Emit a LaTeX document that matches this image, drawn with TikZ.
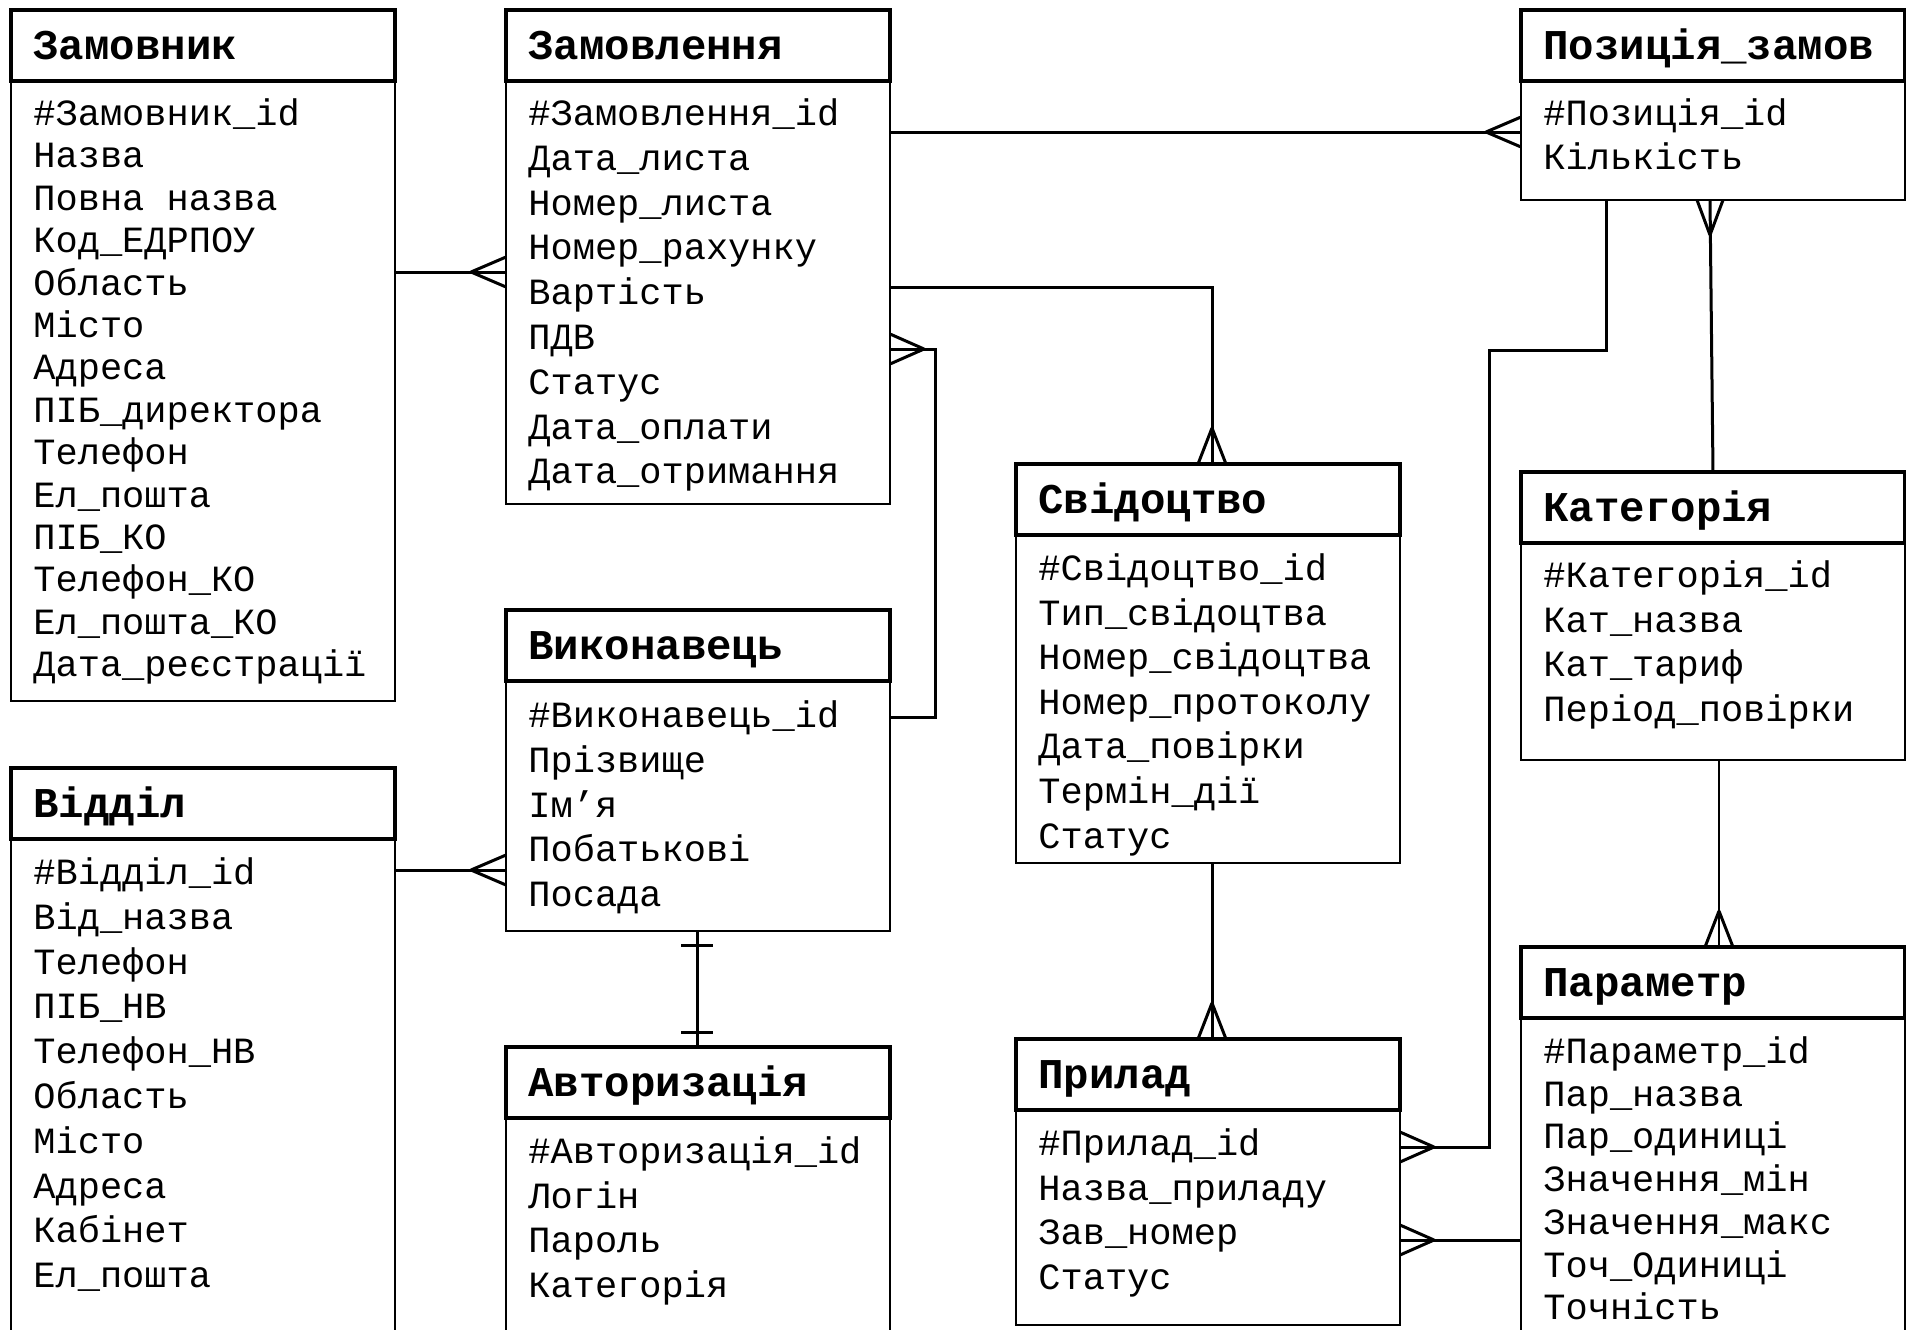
\documentclass[tikz,border=0pt]{standalone}
\usepackage{fontspec}
\setmonofont{Liberation Mono}
\usetikzlibrary{calc}

% one entity: header box with bold title, body box with one attribute per row
% #1 name, #2 left x, #3 top y, #4 body height, #5 title, #6 first baseline, #7 row step, #8 attributes
\newcommand\erentity[8]{%
  \node[bodybox, minimum height=#4*0.5pt] (#1b) at (#2,#3+71) {};
  \node[hdrbox] (#1) at (#2,#3) {};
  \node[hdrtext] (#1t) at (#2+22,#3+49.5) {#5};
  \foreach \t [count=\i from 0] in {#8}
    \node[rowtext] (#1r\i) at (#2+22,#6+2.5+\i*#7) {\t};
}

\begin{document}
\begin{tikzpicture}[x=0.5pt,y=-0.5pt,
  bodybox/.style={draw, line width=0.8pt, fill=white, anchor=north west,
    minimum width=192pt, inner sep=0pt, outer sep=0pt},
  hdrbox/.style={draw, line width=2.2pt, fill=white, anchor=north west,
    minimum width=192pt, minimum height=35.5pt, inner sep=0pt, outer sep=0pt},
  hdrtext/.style={anchor=base west, inner sep=0pt,
    font=\fontsize{21.2}{24}\selectfont\ttfamily\bfseries},
  rowtext/.style={anchor=base west, inner sep=0pt,
    font=\fontsize{18.5}{22}\selectfont\ttfamily},
  conn/.style={line width=1.5pt, black},
  crowL/.pic={\draw[conn] (-35,0) -- (0,-15) (-35,0) -- (0,15);},
  crowR/.pic={\draw[conn] (34,0) -- (0,-15) (34,0) -- (0,15);},
  crowU/.pic={\draw[conn] (0,-36) -- (-14,0) (0,-36) -- (14,0);},
  crowD/.pic={\draw[conn] (0,35) -- (-13,0) (0,35) -- (13,0);},
  bar/.pic={\draw[conn] (-16,0) -- (16,0);}
]
\useasboundingbox (0,0) rectangle (1906,1329);
\fill[white] (0,0) rectangle (1906,1329);

% entities
\erentity{zk}{11}{10}{620}{Замовник}{123}{42.4}{%
  \#Замовник\_id, Назва, Повна назва, Код\_ЕДРПОУ, Область, Місто, Адреса,
  ПІБ\_директора, Телефон, Ел\_пошта, ПІБ\_КО, Телефон\_КО, Ел\_пошта\_КО,
  Дата\_реєстрації}
\erentity{zl}{506}{10}{423}{Замовлення}{123}{44.8}{%
  \#Замовлення\_id, Дата\_листа, Номер\_листа, Номер\_рахунку, Вартість, ПДВ,
  Статус, Дата\_оплати, Дата\_отримання}
\erentity{pz}{1521}{10}{119}{Позиція\_замов}{123}{44}{%
  \#Позиція\_id, Кількість}
\erentity{sv}{1016}{464}{328}{Свідоцтво}{578}{44.6}{%
  \#Свідоцтво\_id, Тип\_свідоцтва, Номер\_свідоцтва, Номер\_протоколу,
  Дата\_повірки, Термін\_дії, Статус}
\erentity{kt}{1521}{472}{217}{Категорія}{585}{44.6}{%
  \#Категорія\_id, Кат\_назва, Кат\_тариф, Період\_повірки}
\erentity{vk}{506}{610}{250}{Виконавець}{725}{44.8}{%
  \#Виконавець\_id, Прізвище, Ім’я, Побатькові, Посада}
\erentity{vd}{11}{768}{520}{Відділ}{882}{44.8}{%
  \#Відділ\_id, Від\_назва, Телефон, ПІБ\_НВ, Телефон\_НВ, Область, Місто,
  Адреса, Кабінет, Ел\_пошта}
\erentity{av}{506}{1047}{240}{Авторизація}{1161}{44.6}{%
  \#Авторизація\_id, Логін, Пароль, Категорія}
\erentity{pr}{1016}{1039}{215}{Прилад}{1153}{44.6}{%
  \#Прилад\_id, Назва\_приладу, Зав\_номер, Статус}
\erentity{pm}{1521}{947}{330}{Параметр}{1061}{42.7}{%
  \#Параметр\_id, Пар\_назва, Пар\_одиниці, Значення\_мін, Значення\_макс,
  Точ\_Одиниці, Точність}

% relationships
% Замовник -< Замовлення
\draw[conn] (zkb.east |- 0,272) -- (zlb.west |- 0,272);
\pic at (zlb.west |- 0,272) {crowL};
% Замовлення -< Позиція_замов
\draw[conn] (zlb.east |- 0,132) -- (pzb.west |- 0,132);
\pic at (pzb.west |- 0,132) {crowL};
% Замовлення -< Свідоцтво
\draw[conn] (zlb.east |- 0,287) -| (sv.north -| 1212,0);
\pic at (sv.north -| 1212,0) {crowU};
% Виконавець -< Замовлення
\draw[conn] (vkb.east |- 0,717) -| (935,349) -- (zlb.east |- 0,349);
\pic at (zlb.east |- 0,349) {crowR};
% Відділ -< Виконавець
\draw[conn] (vdb.east |- 0,870) -- (vkb.west |- 0,870);
\pic at (vkb.west |- 0,870) {crowL};
% Виконавець || Авторизація
\draw[conn] (vkb.south -| 697,0) -- (av.north -| 697,0);
\pic at ($(vkb.south -| 697,0)+(0,14)$) {bar};
\pic at ($(av.north -| 697,0)+(0,-15)$) {bar};
% Свідоцтво -< Прилад
\draw[conn] (svb.south -| 1212,0) -- (pr.north -| 1212,0);
\pic at (pr.north -| 1212,0) {crowU};
% Позиція_замов -< Прилад
\draw[conn] (pzb.south -| 1606,0) |- (1489,350) |- (prb.east |- 0,1147);
\pic at (prb.east |- 0,1147) {crowR};
% Категорія -< Позиція_замов
\draw[conn] (pzb.south -| 1710,0) -- (kt.north -| 1713,0);
\pic at (pzb.south -| 1710,0) {crowD};
% Категорія -< Параметр
\draw[conn, line width=1pt] (ktb.south -| 1719,0) -- (pm.north -| 1719,0);
\pic at (pm.north -| 1719,0) {crowU};
% Параметр -< Прилад
\draw[conn] (pmb.west |- 0,1240) -- (prb.east |- 0,1240);
\pic at (prb.east |- 0,1240) {crowR};
\end{tikzpicture}
\end{document}
